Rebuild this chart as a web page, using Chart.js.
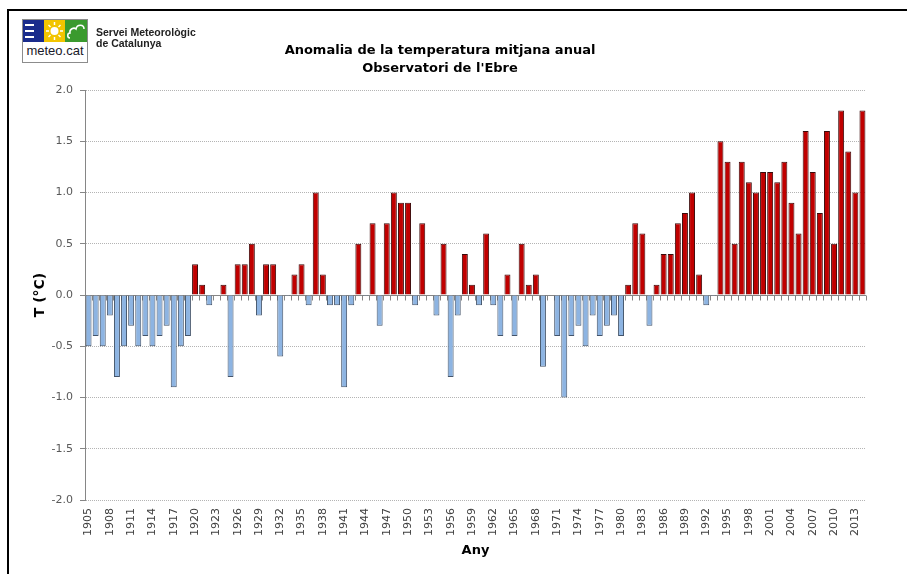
<!DOCTYPE html>
<html>
<head>
<meta charset="utf-8">
<script src="https://cdn.jsdelivr.net/npm/chart.js@4"></script>
<style>
  body { margin: 0; background: #fff; }
  #wrap { position: relative; width: 907px; height: 574px; overflow: hidden; font-family: "DejaVu Sans", sans-serif; }
  #medalsChart { position: absolute; left: 0; top: 0; }
  #frame { position: absolute; left: 7px; top: 9px; width: 910px; height: 580px; border-left: 2px solid #000; border-top: 2px solid #000; }
  #logo { position: absolute; left: 22px; top: 19px; width: 64px; height: 42px; border: 1px solid #8c8c8c; background: #fff; }
  #logo .sq { position: absolute; top: 0; width: 21px; height: 22px; }
  #logo .txt { position: absolute; left: 0; top: 23px; width: 64px; text-align: center; font: 13px "Liberation Sans", Arial, sans-serif; color: #1a1a2a; }
  #org { position: absolute; left: 96px; top: 27px; font: bold 10.5px "Liberation Sans", Arial, sans-serif; line-height: 11px; color: #222; }
  #title { position: absolute; left: 240px; top: 41px; width: 400px; text-align: center; font: bold 13px "DejaVu Sans", Verdana, sans-serif; line-height: 18px; color: #000; }
</style>
</head>
<body>
<div id="wrap">
  <canvas id="medalsChart" width="907" height="574"></canvas>
  <div id="frame"></div>
  <div id="logo">
    <svg class="sq" style="left:0" viewBox="0 0 21 22"><rect width="21" height="22" fill="#1a2c8c"/><rect x="2" y="4" width="9" height="2" fill="#fff"/><rect x="2" y="10" width="9" height="2" fill="#fff"/><rect x="2" y="16" width="9" height="2" fill="#fff"/></svg>
    <svg class="sq" style="left:21px" viewBox="0 0 21 22"><rect width="21" height="22" fill="#f2c500"/><circle cx="10.5" cy="11" r="4" fill="#fff"/><g stroke="#fff" stroke-width="1.5"><line x1="10.5" y1="2" x2="10.5" y2="5"/><line x1="10.5" y1="17" x2="10.5" y2="20"/><line x1="2" y1="11" x2="5" y2="11"/><line x1="16" y1="11" x2="19" y2="11"/><line x1="4.5" y1="5" x2="6.5" y2="7"/><line x1="14.5" y1="15" x2="16.5" y2="17"/><line x1="16.5" y1="5" x2="14.5" y2="7"/><line x1="6.5" y1="15" x2="4.5" y2="17"/></g></svg>
    <svg class="sq" style="left:42px;width:22px" viewBox="0 0 22 22"><rect width="22" height="22" fill="#3a9a2e"/><path d="M5 18 C2 18 2 13 5 13 C4 9 9 7 11 9 C12 4 19 4 19 9" fill="none" stroke="#fff" stroke-width="1.5"/></svg>
    <div class="txt">meteo.cat</div>
  </div>
  <div id="org">Servei Meteorològic<br>de Catalunya</div>
  <div id="title">Anomalia de la temperatura mitjana anual<br>Observatori de l'Ebre</div>
</div>
<script>
// anys 1905-2014
const firstYear = 1905;
const anomalies = [
  -0.5, -0.4, -0.5, -0.2, -0.8, -0.5, -0.3, -0.5, -0.4, -0.5,   // 1905-1914
  -0.4, -0.3, -0.9, -0.5, -0.4, 0.3, 0.1, -0.1, 0.0, 0.1,       // 1915-1924
  -0.8, 0.3, 0.3, 0.5, -0.2, 0.3, 0.3, -0.6, -0.01, 0.2,        // 1925-1934
  0.3, -0.1, 1.0, 0.2, -0.1, -0.1, -0.9, -0.1, 0.5, -0.01,      // 1935-1944
  0.7, -0.3, 0.7, 1.0, 0.9, 0.9, -0.1, 0.7, 0.0, -0.2,          // 1945-1954
  0.5, -0.8, -0.2, 0.4, 0.1, -0.1, 0.6, -0.1, -0.4, 0.2,        // 1955-1964
  -0.4, 0.5, 0.1, 0.2, -0.7, 0.0, -0.4, -1.0, -0.4, -0.3,       // 1965-1974
  -0.5, -0.2, -0.4, -0.3, -0.2, -0.4, 0.1, 0.7, 0.6, -0.3,      // 1975-1984
  0.1, 0.4, 0.4, 0.7, 0.8, 1.0, 0.2, -0.1, -0.01, 1.5,          // 1985-1994
  1.3, 0.5, 1.3, 1.1, 1.0, 1.2, 1.2, 1.1, 1.3, 0.9,             // 1995-2004
  0.6, 1.6, 1.2, 0.8, 1.6, 0.5, 1.8, 1.4, 1.0, 1.8              // 2005-2014
];
const years = anomalies.map((v, i) => String(firstYear + i));
const tickYears = ['1905', '1908', '1911', '1914', '1917', '1920', '1923', '1926', '1929', '1932',
  '1935', '1938', '1941', '1944', '1947', '1950', '1953', '1956', '1959', '1962', '1965', '1968',
  '1971', '1974', '1977', '1980', '1983', '1986', '1989', '1992', '1995', '1998', '2001', '2004',
  '2007', '2010', '2013'];
const yTicks = [-2.0, -1.5, -1.0, -0.5, 0.0, 0.5, 1.0, 1.5, 2.0];

// linia del zero amb les marques de categoria
const zeroLine = {
    id: 'zeroLine',
    beforeDatasetsDraw(chart) {
        const { ctx, scales: { x, y } } = chart;
        const y0 = Math.round(y.getPixelForValue(0)) + 0.5;
        const half = (x.getPixelForTick(1) - x.getPixelForTick(0)) / 2;
        ctx.save();
        ctx.strokeStyle = '#868686';
        ctx.lineWidth = 1;
        ctx.beginPath();
        ctx.moveTo(x.left, y0);
        ctx.lineTo(x.right, y0);
        for (let i = 0; i <= years.length; i++) {
            const px = Math.round(x.getPixelForTick(Math.min(i, years.length - 1)) + (i < years.length ? -half : half)) + 0.5;
            ctx.moveTo(px, y0);
            ctx.lineTo(px, y0 + 5);
        }
        ctx.stroke();
        ctx.restore();
    }
};

const ctx = document.getElementById('medalsChart').getContext('2d');
const anomalyChart = new Chart(ctx, {
    type: 'bar',
    data: {
        labels: years,
        datasets: [{
            label: 'Anomalia',
            data: anomalies,
            backgroundColor: c => (c.raw >= 0 ? '#c00000' : '#8db4e2'),
            borderColor: c => (c.raw >= 0 ? '#3a0a0a' : '#44546a'),
            borderWidth: 1,
            categoryPercentage: 1.0,
            barPercentage: 0.84
        }]
    },
    options: {
        responsive: false,
        animation: false,
        layout: { padding: { left: 30, right: 41, top: 90, bottom: 16 } },
        plugins: {
            legend: { display: false },
            tooltip: { enabled: false }
        },
        scales: {
            x: {
                afterFit: s => { s.height = 58; },
                grid: { display: false },
                border: { display: false },
                ticks: {
                    autoSkip: false,
                    minRotation: 90,
                    maxRotation: 90,
                    padding: 0,
                    color: '#404040',
                    font: { family: 'DejaVu Sans', size: 11 },
                    callback: function (val, i) {
                        const lbl = this.getLabelForValue(val);
                        return tickYears.includes(lbl) ? lbl : '';
                    }
                },
                title: {
                    display: true,
                    text: 'Any',
                    color: '#000',
                    font: { family: 'DejaVu Sans', size: 13, weight: 'bold' },
                    padding: { top: 0, bottom: 0 }
                }
            },
            y: {
                min: -2,
                max: 2,
                afterFit: s => { s.width = 55; },
                afterBuildTicks: s => { s.ticks = yTicks.map(v => ({ value: v })); },
                grid: {
                    color: '#b4b4b4',
                    tickColor: '#868686',
                    tickLength: 5
                },
                border: { display: true, color: '#868686', width: 1, dash: [1, 1] },
                ticks: {
                    padding: 7,
                    color: '#595959',
                    font: { family: 'DejaVu Sans', size: 11 },
                    callback: v => v.toFixed(1)
                },
                title: {
                    display: true,
                    text: 'T (°C)',
                    color: '#000',
                    font: { family: 'DejaVu Sans', size: 14, weight: 'bold' },
                    padding: { top: 2, bottom: 0 }
                }
            }
        }
    },
    plugins: [zeroLine]
});
</script>
</body>
</html>
